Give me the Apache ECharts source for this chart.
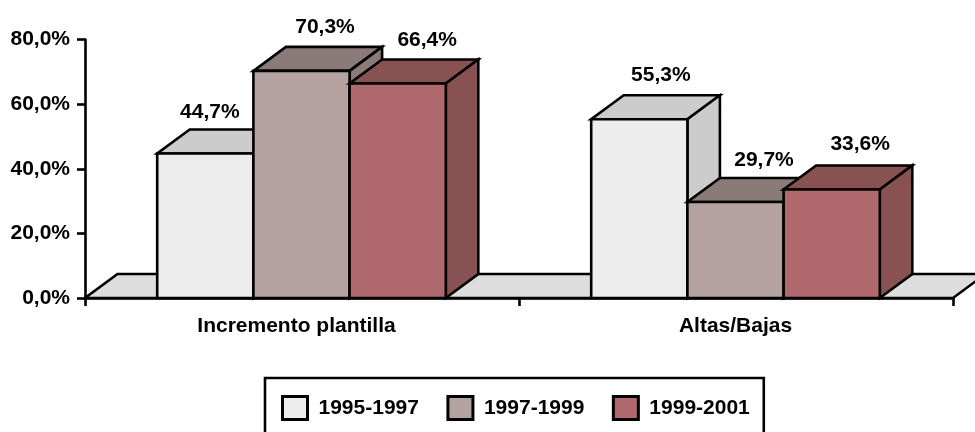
<!DOCTYPE html>
<html>
<head>
<meta charset="utf-8">
<style>html,body{margin:0;padding:0;background:#fff;overflow:hidden}#c{width:975px;height:432px}</style>
<script src="https://cdn.jsdelivr.net/npm/echarts@6/dist/echarts.min.js"></script>
</head>
<body>
<div id="c"></div>
<script>
const categories = ['Incremento plantilla', 'Altas/Bajas'];
const seriesNames = ['1995-1997', '1997-1999', '1999-2001'];
const values1995 = [44.7, 55.3];
const values1997 = [70.3, 29.7];
const values1999 = [66.4, 33.6];
const yTicks = [0, 20, 40, 60, 80];

const FONT = '"Liberation Sans", Arial, sans-serif';
const frontColors = ['#EDEDED', '#B4A2A0', '#B0696C'];
const shadeColors = ['#CCCCCC', '#8B7B78', '#885252'];
const floorColor = '#DDDDDD';
const barFrac = 96.2 / 434;
const barShift = -0.5;
const depthX = 32.5, depthY = 24;
// manual label nudges from the bar's centre, [series][category]
const labelDx = [[4.5, 21.5], [23.5, 28.5], [29.5, 28.5]];
const labelRise = [[17, 20], [20, 18], [19, 21]];
const LW = 2.6;

const fmt = v => v.toFixed(1).replace('.', ',') + '%';
const stroke = {stroke: '#000', lineWidth: LW, lineJoin: 'miter'};

function barRenderer(si) {
  return function (params, api) {
    const cat = api.value(0), val = api.value(1);
    const c = api.coord([cat, val]);
    const base = api.coord([cat, 0]);
    const band = api.size([1, 0])[0];
    const w = band * barFrac;
    const x0 = c[0] - 1.5 * w + si * w + barShift, x1 = x0 + w;
    const yT = c[1], yB = base[1];
    const poly = (pts, fill) => ({type: 'polygon', shape: {points: pts}, style: Object.assign({fill}, stroke)});
    return {
      type: 'group',
      children: [
        poly([[x0, yT], [x1, yT], [x1 + depthX, yT - depthY], [x0 + depthX, yT - depthY]], shadeColors[si]),
        poly([[x1, yT], [x1 + depthX, yT - depthY], [x1 + depthX, yB - depthY], [x1, yB]], shadeColors[si]),
        poly([[x0, yT], [x1, yT], [x1, yB], [x0, yB]], frontColors[si]),
        {type: 'text', z2: 100, style: {
          text: fmt(val), x: (x0 + x1) / 2 + labelDx[si][cat], y: yT - depthY - labelRise[si][cat],
          align: 'center', verticalAlign: 'middle', fill: '#000',
          font: 'bold 21px ' + FONT
        }}
      ]
    };
  };
}

function floorRenderer(params, api) {
  const band = api.size([1, 0])[0];
  const a = api.coord([0, 0]), b = api.coord([categories.length - 1, 0]);
  const xL = a[0] - band / 2, xR = b[0] + band / 2, y = a[1];
  return {
    type: 'polygon',
    shape: {points: [[xL, y], [xR, y], [xR + depthX, y - depthY], [xL + depthX, y - depthY]]},
    style: Object.assign({fill: floorColor}, stroke)
  };
}

const seriesValues = [values1995, values1997, values1999];
const axisFont = {color: '#000', fontFamily: FONT, fontWeight: 'bold', fontSize: 21};
const chart = echarts.init(document.getElementById('c'), null, {renderer: 'canvas'});
chart.setOption({
  animation: false,
  backgroundColor: '#fff',
  grid: {left: 85, top: 39.5, width: 868, height: 258.5, containLabel: false},
  legend: {
    left: 265, top: 378,
    data: seriesNames,
    icon: 'rect',
    orient: 'horizontal',
    borderColor: '#000', borderWidth: 2.6, backgroundColor: '#fff',
    padding: [17, 14, 40, 16],
    itemWidth: 25, itemHeight: 23, itemGap: 27.5,
    selectedMode: false,
    itemStyle: {borderColor: '#000', borderWidth: 3},
    textStyle: {color: '#000', fontFamily: FONT, fontWeight: 'bold', fontSize: 21, padding: [0, 0, 0, 6]}
  },
  xAxis: {
    type: 'category', data: categories, z: 10,
    axisLine: {show: true, lineStyle: {color: '#000', width: LW}},
    axisTick: {show: true, length: 8, alignWithLabel: false, lineStyle: {color: '#000', width: LW}},
    axisLabel: Object.assign({}, axisFont, {
      margin: 18,
      formatter: v => (v === categories[0] ? '{first|' + v + '}' : '{other|' + v + '}'),
      rich: {
        first: Object.assign({}, axisFont, {padding: [0, 11, 0, 0]}),
        other: Object.assign({}, axisFont, {padding: [0, 1, 0, 0]})
      }
    }),
    splitLine: {show: false}
  },
  yAxis: {
    type: 'value', min: yTicks[0], max: yTicks[yTicks.length - 1], interval: yTicks[1] - yTicks[0], z: 10,
    axisLine: {show: true, lineStyle: {color: '#000', width: LW}},
    axisTick: {show: true, length: 8, lineStyle: {color: '#000', width: LW}},
    axisLabel: Object.assign({}, axisFont, {margin: 15, formatter: v => fmt(v)}),
    splitLine: {show: false}
  },
  series: [
    {type: 'custom', name: 'floor', silent: true, clip: false, renderItem: floorRenderer, data: [[0, 0]], encode: {x: 0, y: 1}}
  ].concat(seriesNames.map((name, si) => ({
    type: 'custom', name, silent: true, clip: false,
    renderItem: barRenderer(si),
    encode: {x: 0, y: 1},
    itemStyle: {color: frontColors[si], borderColor: '#000', borderWidth: 3},
    data: seriesValues[si].map((v, i) => [i, v])
  })))
});
</script>
</body>
</html>
